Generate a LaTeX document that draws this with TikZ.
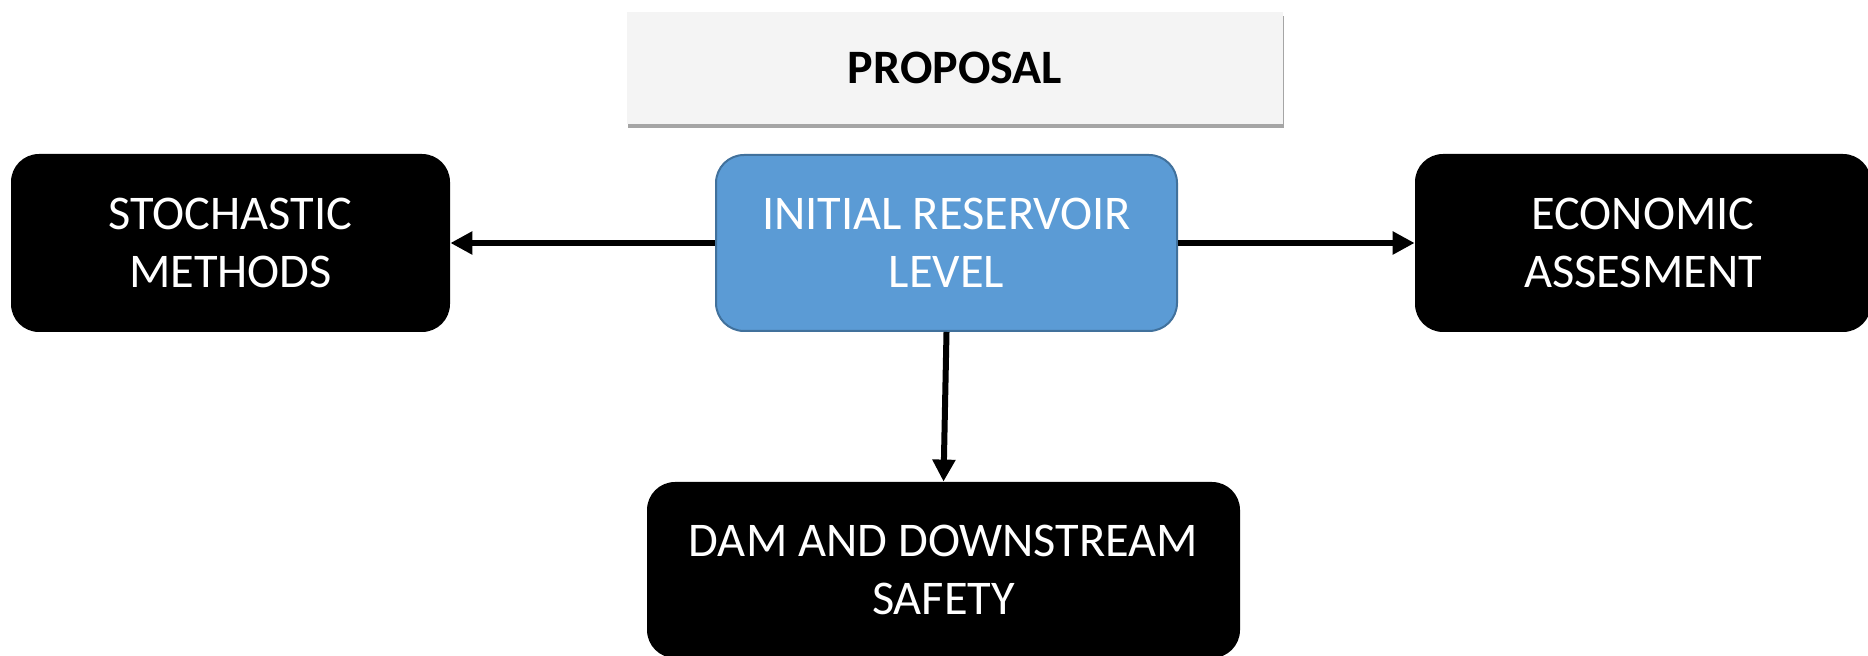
\documentclass[tikz,border=0pt]{standalone}
\usepackage{fontspec}
\setmainfont{Carlito}
\usetikzlibrary{arrows.meta,shadows}
\definecolor{blueFill}{HTML}{5B9BD5}
\definecolor{blueLine}{HTML}{41719C}
\definecolor{propFill}{HTML}{F4F4F4}
\begin{document}
\begin{tikzpicture}[x=0.5pt,y=-0.5pt,
  txt/.style={font=\fontsize{24.2pt}{29pt}\selectfont, align=center, inner sep=0pt},
  blackbox/.style={txt, fill=black, text=white, rounded corners=14pt},
  bluebox/.style={txt, fill=blueFill, draw=blueLine, line width=1pt, text=white, rounded corners=14pt},
  propbox/.style={txt, fill=propFill, font=\fontsize{24pt}{29pt}\selectfont\bfseries,
     drop shadow={shadow xshift=0.4pt, shadow yshift=-1.8pt, opacity=0.5, fill=black!70}},
  conn/.style={line width=3pt, -{Triangle[length=11pt,width=11pt]}}
]
\useasboundingbox (0,0) rectangle (1868,656);
\fill[white] (0,0) rectangle (1868,656);
\node[propbox, minimum width=328pt, minimum height=56pt] (prop) at (955,68) {PROPOSAL};
\node[blackbox, minimum width=219.5pt, minimum height=89pt] (stoch) at (230.5,243) {STOCHASTIC\\METHODS};
\node[bluebox, minimum width=230.5pt, minimum height=88pt] (init) at (946.5,243) {INITIAL RESERVOIR\\LEVEL};
\node[blackbox, minimum width=228pt, minimum height=89pt] (econ) at (1643,243) {ECONOMIC\\ASSESMENT};
\node[blackbox, minimum width=296.5pt, minimum height=88pt] (dam) at (943.5,570) {DAM AND DOWNSTREAM\\SAFETY};
\draw[conn] (init.west) -- (stoch.east);
\draw[conn] (init.east) -- (econ.west);
\draw[conn] (init.south) -- (dam.north);
\end{tikzpicture}
\end{document}
